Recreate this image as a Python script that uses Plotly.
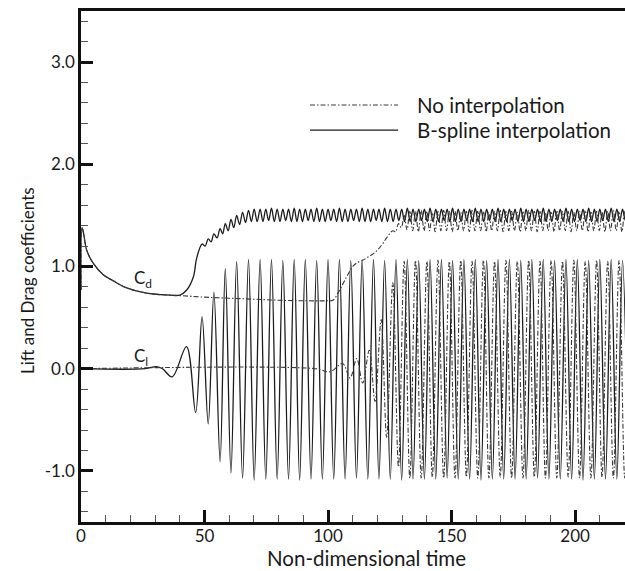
import plotly.graph_objects as go

# ---------------------------------------------------------------------------
# Time histories of lift (Cl) and drag (Cd) coefficients.
# Each series is stored as the times of its turning points and the
# coefficient value there; the curve between them is drawn with Plotly's
# spline line shape.
# ---------------------------------------------------------------------------

# Lift coefficient, B-spline interpolation (solid)
cl_bspline_t = [
    0.0, 26.0, 30.5, 33.0, 36.9, 42.7, 46.4, 49.0, 51.5, 53.8,
    56.3, 58.4, 60.7, 63.0, 65.4, 67.8, 70.1,
    72.5, 74.8, 77.1, 79.4, 81.7, 84.0, 86.3, 88.5, 90.8, 93.1,
    95.4, 97.7, 100.0, 102.3, 104.6, 106.9, 109.2, 111.5, 113.8, 116.1,
    118.4, 120.6, 122.9, 125.2, 127.5, 129.8, 132.1, 134.4, 136.7, 139.0,
    141.3, 143.6, 145.9, 148.2, 150.4, 152.7, 155.0, 157.3, 159.6, 161.9,
    164.2, 166.5, 168.8, 171.1, 173.4, 175.7, 178.0, 180.2, 182.5, 184.8,
    187.1, 189.4, 191.7, 194.0, 196.3, 198.6, 200.9, 203.2, 205.5, 207.8,
    210.0, 212.3, 214.6, 216.9, 219.2, 221.5,
]
cl_bspline = [
    0.0, 0.0, 0.02, 0.0, -0.08, 0.215, -0.43, 0.51, -0.54, 0.75,
    -0.91, 0.98, -1.02, 1.05, -1.07, 1.07, -1.09,
    1.07, -1.08, 1.07, -1.08, 1.06, -1.08, 1.07, -1.09, 1.07, -1.08,
    1.06, -1.08, 1.07, -1.08, 1.07, -1.08, 1.06, -1.07, 1.07, -1.08,
    1.07, -1.08, 1.06, -1.08, 1.07, -1.09, 1.07, -1.08, 1.06, -1.08,
    1.07, -1.08, 1.07, -1.07, 1.06, -1.08, 1.07, -1.08, 1.07, -1.09,
    1.06, -1.08, 1.07, -1.08, 1.07, -1.08, 1.06, -1.08, 1.07, -1.07,
    1.07, -1.08, 1.06, -1.08, 1.07, -1.08, 1.07, -1.09, 1.06, -1.08,
    1.07, -1.08, 1.07, -1.08, 1.06, -1.08,
]

# Drag coefficient, B-spline interpolation (solid)
cd_bspline_t = [
    0.0, 0.4, 1.0, 2.3, 5.0, 9.0, 13.0, 18.5, 26.6, 32.0,
    36.0, 40.0, 42.8, 45.5, 46.8,
    49.0, 50.25, 51.5, 52.65, 53.8, 55.05, 56.3, 57.35, 58.4, 59.55,
    60.7, 61.85, 63.0, 64.2, 65.4, 66.6, 67.8, 68.95, 70.1, 71.3,
    72.5, 73.65, 74.8, 75.95, 77.1, 78.25, 79.4, 80.55, 81.7, 82.85,
    84.0, 85.15, 86.3, 87.4, 88.5, 89.65, 90.8, 91.95, 93.1, 94.25,
    95.4, 96.55, 97.7, 98.85, 100.0, 101.15, 102.3, 103.45, 104.6, 105.75,
    106.9, 108.05, 109.2, 110.35, 111.5, 112.65, 113.8, 114.95, 116.1, 117.25,
    118.4, 119.5, 120.6, 121.75, 122.9, 124.05, 125.2, 126.35, 127.5, 128.65,
    129.8, 130.95, 132.1, 133.25, 134.4, 135.55, 136.7, 137.85, 139.0, 140.15,
    141.3, 142.45, 143.6, 144.75, 145.9, 147.05, 148.2, 149.3, 150.4, 151.55,
    152.7, 153.85, 155.0, 156.15, 157.3, 158.45, 159.6, 160.75, 161.9, 163.05,
    164.2, 165.35, 166.5, 167.65, 168.8, 169.95, 171.1, 172.25, 173.4, 174.55,
    175.7, 176.85, 178.0, 179.1, 180.2, 181.35, 182.5, 183.65, 184.8, 185.95,
    187.1, 188.25, 189.4, 190.55, 191.7, 192.85, 194.0, 195.15, 196.3, 197.45,
    198.6, 199.75, 200.9, 202.05, 203.2, 204.35, 205.5, 206.65, 207.8, 208.9,
    210.0, 211.15, 212.3, 213.45, 214.6, 215.75, 216.9, 218.05, 219.2, 220.35,
    221.5,
]
cd_bspline = [
    0.77, 1.38, 1.33, 1.16, 1.03, 0.92, 0.86, 0.79, 0.74, 0.725,
    0.72, 0.72, 0.77, 0.90, 1.08,
    1.22, 1.20, 1.27, 1.24, 1.32, 1.28, 1.37, 1.32, 1.42, 1.35,
    1.46, 1.38, 1.50, 1.41, 1.53, 1.43, 1.55, 1.44, 1.56, 1.44,
    1.56, 1.44, 1.56, 1.45, 1.57, 1.44, 1.56, 1.44, 1.56, 1.45,
    1.56, 1.44, 1.57, 1.44, 1.56, 1.44, 1.56, 1.45, 1.56, 1.44,
    1.57, 1.44, 1.56, 1.44, 1.56, 1.45, 1.56, 1.44, 1.57, 1.44,
    1.56, 1.44, 1.56, 1.45, 1.56, 1.44, 1.57, 1.44, 1.56, 1.44,
    1.56, 1.45, 1.56, 1.44, 1.57, 1.44, 1.56, 1.44, 1.56, 1.45,
    1.56, 1.44, 1.57, 1.44, 1.56, 1.44, 1.56, 1.45, 1.56, 1.44,
    1.57, 1.44, 1.56, 1.44, 1.56, 1.45, 1.56, 1.44, 1.57, 1.44,
    1.56, 1.44, 1.56, 1.45, 1.56, 1.44, 1.57, 1.44, 1.56, 1.44,
    1.56, 1.45, 1.56, 1.44, 1.57, 1.44, 1.56, 1.44, 1.56, 1.45,
    1.56, 1.44, 1.57, 1.44, 1.56, 1.44, 1.56, 1.45, 1.56, 1.44,
    1.57, 1.44, 1.56, 1.44, 1.56, 1.45, 1.56, 1.44, 1.57, 1.44,
    1.56, 1.44, 1.56, 1.45, 1.56, 1.44, 1.57, 1.44, 1.56, 1.44,
    1.56, 1.45, 1.56, 1.44, 1.57, 1.44, 1.56, 1.44, 1.56, 1.45,
    1.56,
]

# Lift coefficient, no interpolation (dash-dot)
cl_noint_t = [
    0.0, 95.0, 100.8, 105.9, 108.9, 111.6, 114.0, 116.7, 119.0, 121.5,
    123.7, 126.2, 128.5,
    130.8, 133.1, 135.4, 137.7, 140.0, 142.2, 144.5, 146.8, 149.1, 151.4,
    153.7, 156.0, 158.3, 160.6, 162.9, 165.1, 167.4, 169.7, 172.0, 174.3,
    176.6, 178.9, 181.2, 183.5, 185.8, 188.0, 190.3, 192.6, 194.9, 197.2,
    199.5, 201.8, 204.1, 206.4, 208.7, 210.9, 213.2, 215.5, 217.8, 220.1,
    222.4,
]
cl_noint = [
    0.0, 0.0, -0.03, 0.05, -0.09, 0.10, -0.14, 0.18, -0.32, 0.48,
    -0.67, 0.84, -0.96,
    1.05, -1.07, 1.06, -1.07, 1.05, -1.06, 1.06, -1.07, 1.05, -1.07,
    1.06, -1.06, 1.05, -1.07, 1.06, -1.07, 1.05, -1.06, 1.06, -1.07,
    1.05, -1.07, 1.06, -1.06, 1.05, -1.07, 1.06, -1.07, 1.05, -1.06,
    1.06, -1.07, 1.05, -1.07, 1.06, -1.06, 1.05, -1.07, 1.06, -1.07,
    1.05,
]

# Drag coefficient, no interpolation (dash-dot)
cd_noint_t = [
    0.0, 0.4, 1.0, 2.3, 5.0, 9.0, 13.0, 18.5, 26.6, 32.0,
    36.0, 40.0, 50.0, 60.0, 70.0, 80.0, 90.0, 100.0, 102.0, 104.0,
    106.0, 108.0, 110.0, 112.0, 114.0, 116.0, 118.0, 120.0, 122.0, 124.0,
    126.2, 127.35, 128.5, 129.65, 130.8, 131.95,
    133.1, 134.25, 135.4, 136.55, 137.7, 138.85, 140.0, 141.1, 142.2, 143.35,
    144.5, 145.65, 146.8, 147.95, 149.1, 150.25, 151.4, 152.55, 153.7, 154.85,
    156.0, 157.15, 158.3, 159.45, 160.6, 161.75, 162.9, 164.0, 165.1, 166.25,
    167.4, 168.55, 169.7, 170.85, 172.0, 173.15, 174.3, 175.45, 176.6, 177.75,
    178.9, 180.05, 181.2, 182.35, 183.5, 184.65, 185.8, 186.9, 188.0, 189.15,
    190.3, 191.45, 192.6, 193.75, 194.9, 196.05, 197.2, 198.35, 199.5, 200.65,
    201.8, 202.95, 204.1, 205.25, 206.4, 207.55, 208.7, 209.8, 210.9, 212.05,
    213.2, 214.35, 215.5, 216.65, 217.8, 218.95, 220.1, 221.25, 222.4,
]
cd_noint = [
    0.77, 1.38, 1.33, 1.16, 1.03, 0.92, 0.86, 0.79, 0.74, 0.725,
    0.72, 0.715, 0.70, 0.69, 0.68, 0.67, 0.665, 0.665, 0.67, 0.74,
    0.83, 0.92, 1.00, 1.04, 1.06, 1.09, 1.12, 1.16, 1.22, 1.29,
    1.35, 1.34, 1.42, 1.38, 1.50, 1.36,
    1.54, 1.35, 1.54, 1.34, 1.55, 1.35, 1.54, 1.35, 1.53, 1.34,
    1.54, 1.35, 1.55, 1.35, 1.54, 1.34, 1.54, 1.35, 1.53, 1.35,
    1.54, 1.34, 1.55, 1.35, 1.54, 1.35, 1.54, 1.34, 1.53, 1.35,
    1.54, 1.35, 1.55, 1.34, 1.54, 1.35, 1.54, 1.35, 1.53, 1.34,
    1.54, 1.35, 1.55, 1.35, 1.54, 1.34, 1.54, 1.35, 1.53, 1.35,
    1.54, 1.34, 1.55, 1.35, 1.54, 1.35, 1.54, 1.34, 1.53, 1.35,
    1.54, 1.35, 1.55, 1.34, 1.54, 1.35, 1.54, 1.35, 1.53, 1.34,
    1.54, 1.35, 1.55, 1.35, 1.54, 1.34, 1.54, 1.35, 1.54,
]

for t, v in [(cl_bspline_t, cl_bspline), (cd_bspline_t, cd_bspline),
             (cl_noint_t, cl_noint), (cd_noint_t, cd_noint)]:
    assert len(t) == len(v), (len(t), len(v))

x_ticks = [0, 50, 100, 150, 200]
y_ticks = [-1.0, 0.0, 1.0, 2.0, 3.0]
legend_names = ["No interpolation", "B-spline interpolation"]

FONT = "Lato, Open Sans, DejaVu Sans, sans-serif"
INK = "#1a1a1a"
SOLID = dict(color="#1c1c1c", width=1.3, shape="spline", smoothing=1.0)
DASHDOT = dict(color="#3a3a3a", width=1.1, shape="spline", smoothing=1.0,
               dash="5px,2px,1.5px,2px")

fig = go.Figure()
fig.add_trace(go.Scatter(x=cd_bspline_t, y=cd_bspline, mode="lines",
                         line=SOLID, showlegend=False, hoverinfo="skip"))
fig.add_trace(go.Scatter(x=cl_bspline_t, y=cl_bspline, mode="lines",
                         line=SOLID, showlegend=False, hoverinfo="skip"))
fig.add_trace(go.Scatter(x=cd_noint_t, y=cd_noint, mode="lines",
                         line=DASHDOT, showlegend=False, hoverinfo="skip"))
fig.add_trace(go.Scatter(x=cl_noint_t, y=cl_noint, mode="lines",
                         line=DASHDOT, showlegend=False, hoverinfo="skip"))

# Key: sample line + label for each method
key_rows = [(0.816, DASHDOT, legend_names[0]), (0.767, SOLID, legend_names[1])]
for ky, style, name in key_rows:
    fig.add_shape(type="line", xref="paper", yref="paper",
                  x0=0.421, x1=0.583, y0=ky, y1=ky,
                  line=dict(color=style["color"], width=style["width"],
                            dash=style.get("dash", "solid")))
    fig.add_annotation(x=0.614, y=ky, xref="paper", yref="paper",
                       text=name, showarrow=False, xanchor="left",
                       yanchor="middle",
                       font=dict(family=FONT, size=20.5, color=INK))

# Curve labels
fig.add_annotation(x=20.8, y=0.878, text="C<sub>d</sub>", showarrow=False,
                   xanchor="left", yanchor="middle",
                   font=dict(family=FONT, size=17, color=INK))
fig.add_annotation(x=20.8, y=0.114, text="C<sub>l</sub>", showarrow=False,
                   xanchor="left", yanchor="middle",
                   font=dict(family=FONT, size=17, color=INK))

# Axis titles
fig.add_annotation(x=0.524, y=-0.0962, xref="paper", yref="paper",
                   text="Non-dimensional time", showarrow=False,
                   xanchor="center", yanchor="bottom", borderpad=0,
                   font=dict(family=FONT, size=20.5, color=INK))
fig.add_annotation(x=-0.097, y=0.472, xref="paper", yref="paper",
                   text="Lift and Drag coefficients", showarrow=False,
                   textangle=-90, xanchor="center", yanchor="middle",
                   font=dict(family=FONT, size=17, color=INK))

axis_common = dict(
    showline=True, linewidth=2.5, linecolor="#111111",
    ticks="inside", ticklen=12, tickwidth=2.5, tickcolor="#111111",
    showgrid=False, zeroline=False, automargin=False,
    tickfont=dict(family=FONT, size=17, color=INK),
)

fig.update_xaxes(
    range=[0, 220.2], tickvals=x_ticks, ticktext=[str(v) for v in x_ticks],
    mirror=True, ticklabelstandoff=-3,
    minor=dict(dtick=10, tick0=0, ticks="inside", ticklen=7, tickwidth=1,
               tickcolor="#555555", showgrid=False),
    **axis_common,
)
fig.update_yaxes(
    range=[-1.5, 3.5], tickvals=y_ticks, ticktext=[f"{v:.1f}" for v in y_ticks],
    minor=dict(dtick=0.2, tick0=0, ticks="inside", ticklen=7, tickwidth=1,
               tickcolor="#555555", showgrid=False),
    **axis_common,
)

fig.update_layout(
    width=625, height=571,
    margin=dict(l=81, r=0, t=11, b=49),
    paper_bgcolor="white", plot_bgcolor="white",
    showlegend=False,
    font=dict(family=FONT, size=17, color=INK),
)

fig.write_html("out.html")
